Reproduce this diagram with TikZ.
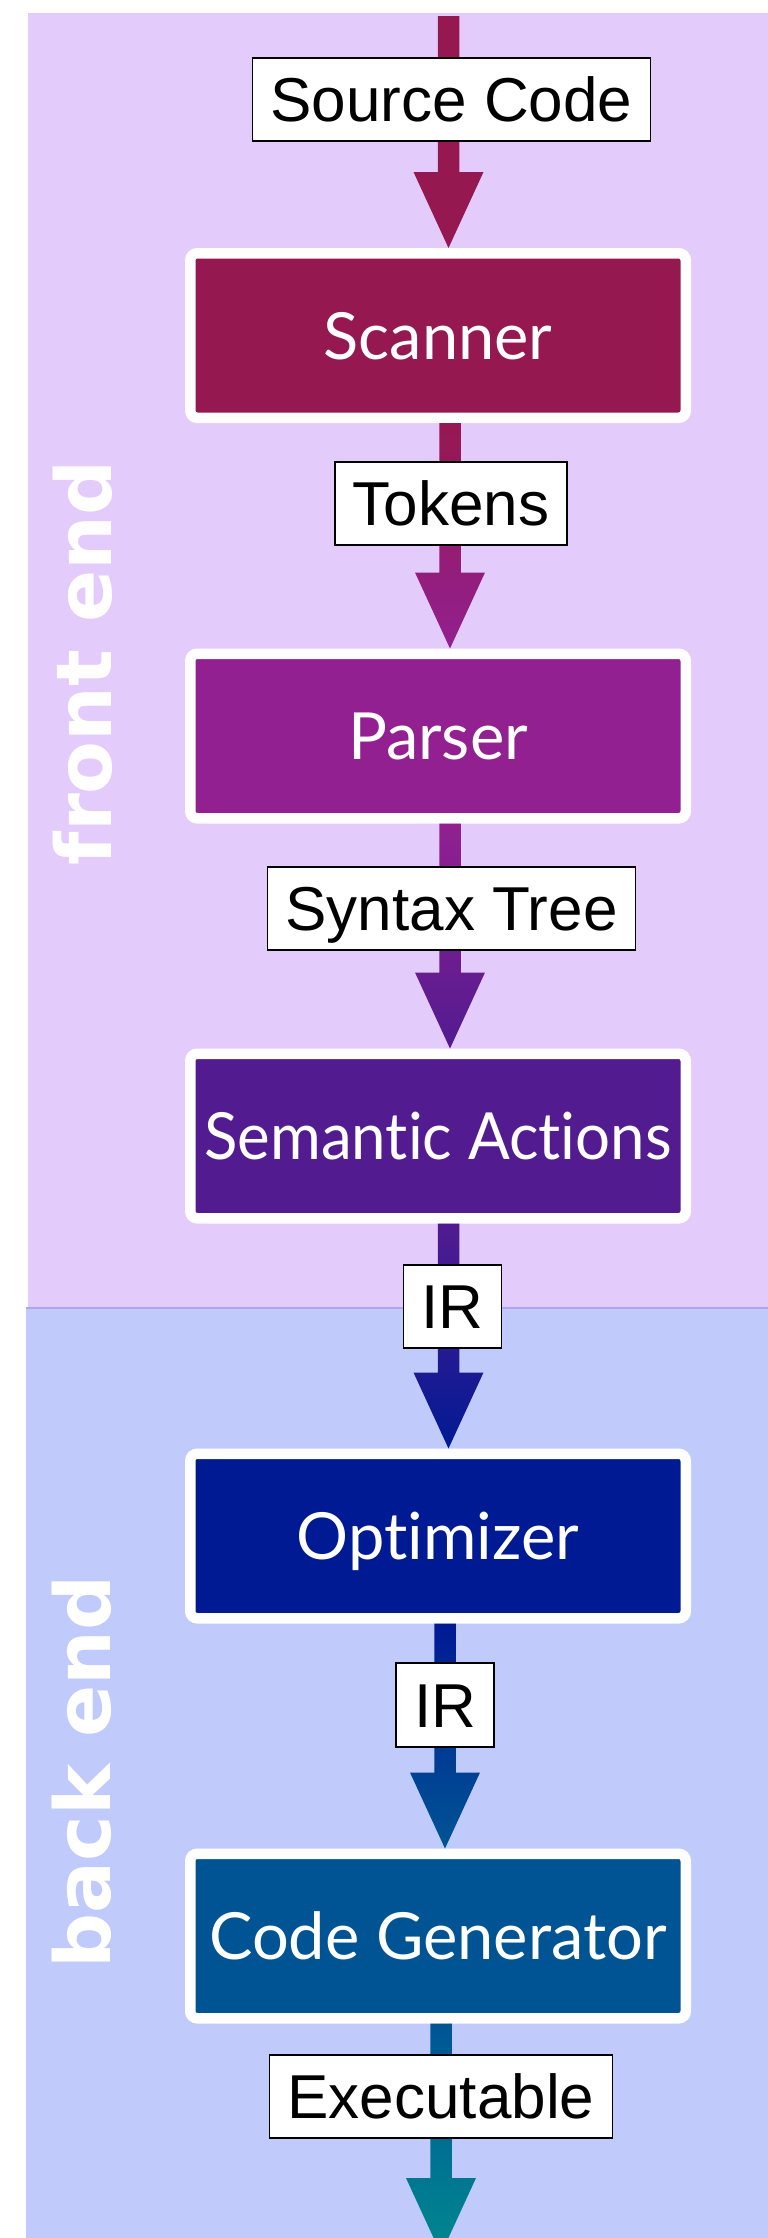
\documentclass[tikz,border=0pt]{standalone}
\usepackage{fontspec}
\setmainfont{Liberation Sans}
\newfontfamily\stagefont{Lato}[Ligatures=NoCommon]
\newfontfamily\sidefont{DejaVu Sans}
\usetikzlibrary{calc}

\definecolor{frontbg}{HTML}{E3CCFB}
\definecolor{backbg}{HTML}{C0CBFC}
\definecolor{seam}{HTML}{AEA4F2}
\definecolor{cscan}{HTML}{961850}
\definecolor{cparse}{HTML}{922090}
\definecolor{csem}{HTML}{521B90}
\definecolor{copt}{HTML}{001A94}
\definecolor{cgen}{HTML}{005494}
\definecolor{cexe}{HTML}{008890}

% shaded block arrow: start point, end point, x offset, top colour, bottom colour
\newcommand\flowarrow[5]{%
  \shade[top color=#4, bottom color=#5]
    let \p1=(#1), \p2=(#2) in
    (\x1+#3-10.75pt,\y1) -- (\x1+#3+10.75pt,\y1)
    -- (\x1+#3+10.75pt,\y2+76pt) -- (\x1+#3+35pt,\y2+76pt)
    -- (\x1+#3,\y2)
    -- (\x1+#3-35pt,\y2+76pt) -- (\x1+#3-10.75pt,\y2+76pt) -- cycle;
}

\begin{document}
\begin{tikzpicture}[x=1pt,y=-1pt,
  stage/.style={draw=white, line width=10.5pt, rounded corners=7pt,
    minimum width=495.5pt, minimum height=164.5pt, inner sep=0pt,
    text=white, font=\stagefont\fontsize{65}{65}\selectfont,
    text height=47pt, text depth=0pt},
  datalabel/.style={draw=black, fill=white, line width=1.6pt,
    font=\fontsize{62}{62}\selectfont, inner xsep=18pt, inner ysep=0pt,
    minimum height=83.5pt, text height=44.4pt, text depth=0pt},
  sidelabel/.style={rotate=90, text=white, inner sep=0pt, text depth=0pt,
    font=\sidefont\bfseries\fontsize{77}{77}\selectfont}]

\useasboundingbox (0,0) rectangle (768,2238);

% the two halves of the compiler
\fill[frontbg] (28,13) rectangle (768,1308);
\fill[backbg] (25.5,1308) rectangle (768,2238);
\draw[seam, line width=2pt] (25.5,1308) -- (768,1308);

\node[sidelabel] (fe) at (82.5,663) {front end};
\node[sidelabel] (be) at (81,1772) {back end};

% compiler phases
\node[stage, fill=cscan] (scanner) at (438,335.5) {Scanner};
\node[stage, fill=cparse] (parser) at (438,736) {Parser};
\node[stage, fill=csem] (semantic) at (438,1136) {\scalebox{0.95}[1]{Semantic Actions}};
\node[stage, fill=copt] (optimizer) at (438,1536) {Optimizer};
\node[stage, fill=cgen] (codegen) at (438,1936) {Code Generator};

\coordinate (srcin) at (438,16);
\coordinate (exeout) at (438,2254);

% data flowing between phases
\flowarrow{srcin}{scanner.north}{10.5pt}{cscan}{cscan}
\flowarrow{scanner.south}{parser.north}{12pt}{cscan}{cparse}
\flowarrow{parser.south}{semantic.north}{12pt}{cparse}{csem}
\flowarrow{semantic.south}{optimizer.north}{10.5pt}{csem}{copt}
\flowarrow{optimizer.south}{codegen.north}{7pt}{copt}{cgen}
\flowarrow{codegen.south}{exeout}{3pt}{cgen}{cexe}

\node[datalabel] (lsrc) at (451.5,99.5) {Source Code};
\node[datalabel] (ltok) at (451,503.5) {Tokens};
\node[datalabel] (lsyn) at (451.5,908.5) {Syntax Tree};
\node[datalabel] (lir1) at (452.5,1306.5) {IR};
\node[datalabel] (lir2) at (445,1705) {IR};
\node[datalabel] (lexe) at (441,2096.5) {Executable};

\end{tikzpicture}
\end{document}
